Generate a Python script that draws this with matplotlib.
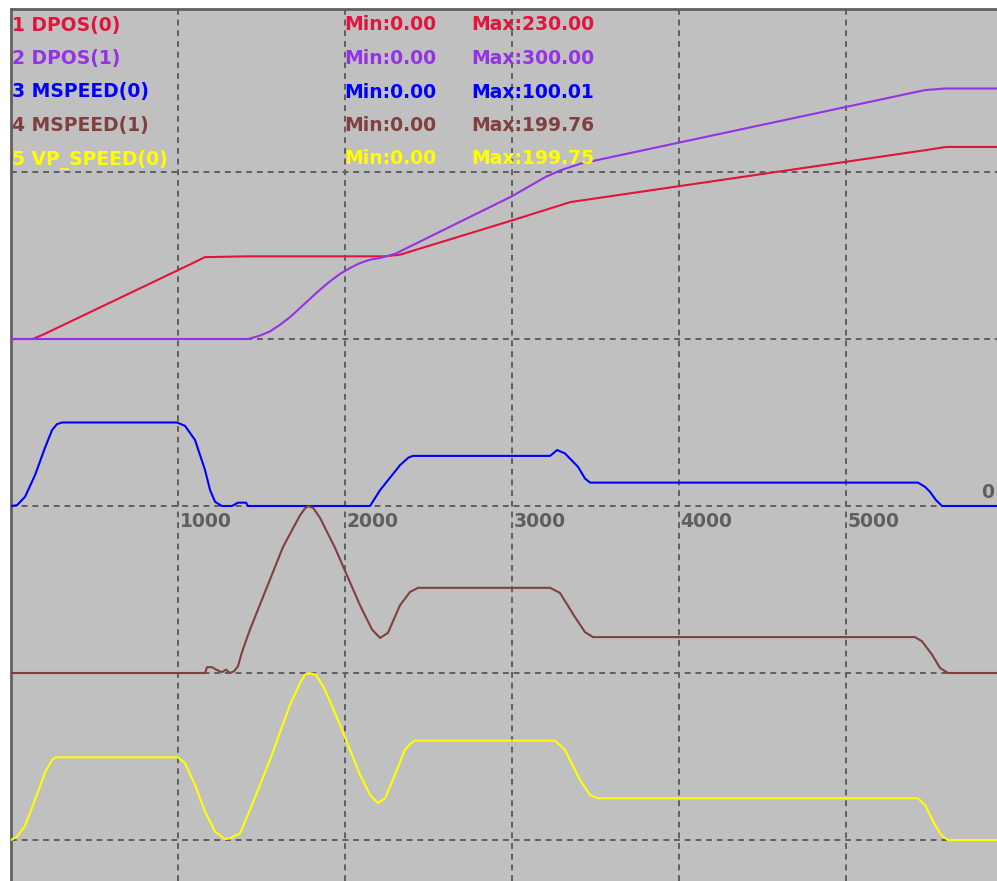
import matplotlib
matplotlib.use("Agg")
import matplotlib.pyplot as plt

# ==============================
# Data (time in ms, values in channel units)
# ==============================

dpos0_t = [0, 130, 190, 1100, 1160, 1410, 2240, 2330, 3000, 3350, 5470, 5600, 5900]
dpos0_v = [0, 0, 5, 92, 98, 99, 99, 101, 142, 164, 226, 230, 230]

dpos1_t = [0, 1420, 1490, 1550, 1610, 1670, 1730, 1790, 1850, 1910, 1970, 2030, 2090, 2150,
           2210, 2300, 3000, 3200, 3290, 3410, 5470, 5590, 5900]
dpos1_v = [0, 0, 4, 9, 17, 26, 37, 48, 59, 69, 78, 85, 91, 95,
           97, 102, 171, 194, 202, 210, 298, 300, 300]

mspeed0_t = [0, 36, 84, 144, 204, 246, 275, 305, 994, 1042, 1102, 1162, 1192, 1222, 1263,
             1323, 1359, 1407, 1419, 2150, 2210, 2330, 2380, 2407, 3228, 3270, 3317, 3395,
             3437, 3467, 5431, 5473, 5503, 5539, 5575, 5900]
mspeed0_v = [0, 1, 11, 37, 70, 91, 98, 100, 100, 96, 79, 43, 19, 5, 0,
             0, 4, 4, 0, 0, 19, 49, 58, 60, 60, 67, 63, 47,
             33, 28, 28, 23, 17, 7, 0, 0]

mspeed1_t = [0, 1162, 1174, 1204, 1228, 1263, 1287, 1311, 1335, 1359, 1383, 1431, 1629, 1731,
             1760, 1778, 1808, 1850, 1940, 2090, 2162, 2210, 2257, 2329, 2389, 2437, 3228,
             3287, 3377, 3437, 3485, 5413, 5455, 5515, 5563, 5611, 5900]
mspeed1_v = [0, 0, 7, 7, 4, 1, 4, 0, 2, 8, 25, 52, 151, 189,
             197, 199.76, 198, 186, 150, 81, 52, 42, 48, 81, 97, 102, 102,
             96, 67, 49, 43, 43, 38, 22, 6, 0, 0]

vpspeed_t = [0, 36, 84, 144, 204, 246, 269, 1000, 1042, 1102, 1162, 1222, 1281, 1311, 1371,
             1431, 1551, 1671, 1731, 1760, 1790, 1826, 1880, 1970, 2090, 2150, 2197, 2240,
             2299, 2359, 2395, 2419, 3258, 3317, 3407, 3467, 3515, 5431, 5473, 5533, 5575,
             5611, 5900]
vpspeed_v = [0, 4, 17, 48, 81, 96, 99, 99, 92, 66, 34, 10, 1, 2, 8,
             36, 96, 162, 188, 198, 199.75, 198, 180, 138, 78, 54, 44, 50,
             78, 108, 116, 119, 119, 108, 72, 54, 50, 50, 42, 18, 5,
             0, 0]

names = ["1 DPOS(0)", "2 DPOS(1)", "3 MSPEED(0)", "4 MSPEED(1)", "5 VP_SPEED(0)"]
mins = ["Min:0.00", "Min:0.00", "Min:0.00", "Min:0.00", "Min:0.00"]
maxs = ["Max:230.00", "Max:300.00", "Max:100.01", "Max:199.76", "Max:199.75"]
x_ticks = [1000, 2000, 3000, 4000, 5000]

# ==============================
# Style / layout
# ==============================

colors = ["#e0143c", "#9632e6", "#0000ff", "#804040", "#ffff00"]
offsets = [600, 600, 400, 200, 0]   # vertical offset of each channel (200 units / division)
GRID = "#5f5f5f"
W, H = 997, 881

fig = plt.figure(figsize=(W / 100, H / 100), dpi=100, facecolor="white")
ax = fig.add_axes([11 / W, 0, 986 / W, 872 / H])
ax.set_facecolor("#c0c0c0")

unit = 200 / 167  # data units per pixel
ax.set_xlim(0, 986 * 1000 / 167)
ax.set_ylim(-41 * unit, 831 * unit)

for x in x_ticks:
    ax.axvline(x, color=GRID, lw=1.4, ls=(0, (3, 2.5)), zorder=1)
for y in [0, 200, 400, 600, 800]:
    ax.axhline(y, color=GRID, lw=1.4, ls=(0, (3, 2.5)), zorder=1)

series = [(dpos0_t, dpos0_v), (dpos1_t, dpos1_v), (mspeed0_t, mspeed0_v),
          (mspeed1_t, mspeed1_v), (vpspeed_t, vpspeed_v)]
for (t, v), c, off in zip(series, colors, offsets):
    ax.plot(t, [val + off for val in v], color=c, lw=1.5, zorder=3)

ax.set_xticks([])
ax.set_yticks([])
for s in ["right", "bottom"]:
    ax.spines[s].set_visible(False)
for s in ["left", "top"]:
    ax.spines[s].set_color("#606060")
    ax.spines[s].set_linewidth(2)

# ==============================
# Texts
# ==============================

font = dict(family="DejaVu Sans", weight="bold", size=13.5)
baselines = [30.5, 64, 97.5, 131, 164.5]
for i in range(5):
    yb = 1 - baselines[i] / H
    fig.text(12 / W, yb, names[i], color=colors[i], va="baseline", ha="left", zorder=5, **font)
    fig.text(344 / W, yb, mins[i], color=colors[i], va="baseline", ha="left", zorder=5, **font)
    fig.text(471 / W, yb, maxs[i], color=colors[i], va="baseline", ha="left", zorder=5, **font)

for x in x_ticks:
    ax.text(x + 10, 400 - 21 * unit, str(x), color=GRID, va="baseline", ha="left", **font)
fig.text(994 / W, 1 - 498 / H, "0", color=GRID, va="baseline", ha="right", **font)

fig.savefig("out.png", dpi=100, facecolor="white")
plt.close(fig)
